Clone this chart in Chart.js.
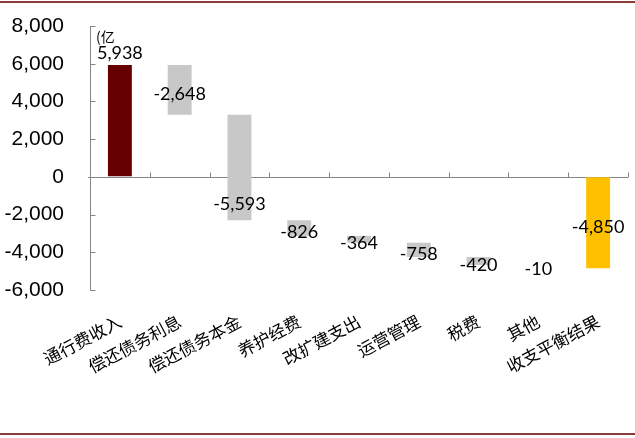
<!DOCTYPE html>
<html>
<head>
<meta charset="utf-8">
<script src="https://cdn.jsdelivr.net/npm/chart.js@4.4.1/dist/chart.umd.min.js"></script>
<style>
html,body{margin:0;padding:0;background:#fff}
#wrap{width:635px;height:438px;position:relative}
</style>
</head>
<body>
<div id="wrap"><canvas id="c" width="635" height="438"></canvas></div>
<script>
// 收支测算（亿元）
const categories=['通行费收入','偿还债务利息','偿还债务本金','养护经费','改扩建支出','运营管理','税费','其他','收支平衡结果'];
const changes=[5938,-2648,-5593,-826,-364,-758,-420,-10];
const balance=-4850;
const yTicks=[-6000,-4000,-2000,0,2000,4000,6000,8000];
const unitLabel='(亿';

// waterfall: each step floats from the running total
let run=0;
const floats=changes.map(v=>{const b=[run,run+v];run+=v;return b;});
floats.push([0,balance]);
const values=[...changes,balance];
const colors=values.map((v,i)=>i===0?'#660000':(i===values.length-1?'#FFC000':'#C8C8C8'));

const AXIS='#868686';
const fmt=v=>v.toLocaleString('en-US');

const deco={
  id:'deco',
  beforeDraw(chart){
    const ctx=chart.ctx;
    ctx.save();
    ctx.fillStyle='#8c3b3b';
    ctx.fillRect(0,1,chart.width,2);
    ctx.fillRect(0,433,chart.width,2);
    ctx.restore();
  },
  beforeDatasetsDraw(chart){
    const {ctx,chartArea:a,scales:{x,y}}=chart;
    ctx.save();
    ctx.strokeStyle=AXIS;ctx.lineWidth=1;
    // y axis line + ticks pointing inward
    const lx=Math.round(a.left)+.5;
    ctx.beginPath();ctx.moveTo(lx,Math.round(a.top));ctx.lineTo(lx,Math.round(a.bottom)+1);ctx.stroke();
    yTicks.forEach(t=>{
      const py=Math.round(y.getPixelForValue(t))+.5;
      ctx.beginPath();ctx.moveTo(lx,py);ctx.lineTo(lx+5,py);ctx.stroke();
    });
    // zero line with upward ticks at category boundaries
    const y0=Math.round(y.getPixelForValue(0))+.5;
    ctx.beginPath();ctx.moveTo(a.left-2,y0);ctx.lineTo(a.right,y0);ctx.stroke();
    const w=(a.right-a.left)/categories.length;
    for(let k=1;k<=categories.length;k++){
      const px=Math.round(a.left+k*w)+.5;
      ctx.beginPath();ctx.moveTo(px,y0);ctx.lineTo(px,y0-5);ctx.stroke();
    }
    ctx.restore();
  },
  afterDatasetsDraw(chart){
    const {ctx,chartArea:a}=chart;
    const meta=chart.getDatasetMeta(0);
    const nudge={2:33};
    ctx.save();
    ctx.fillStyle='#000';
    ctx.font="18px Lato, 'Liberation Sans', sans-serif";
    ctx.textAlign='center';ctx.textBaseline='middle';
    meta.data.forEach((bar,i)=>{
      const top=Math.min(bar.y,bar.base),bot=Math.max(bar.y,bar.base);
      let ly=i===0?top-12:(top+bot)/2+4+(nudge[i]||0);
      ctx.fillText(fmt(values[i]),bar.x,ly);
    });
    ctx.font="14px 'Noto Sans CJK SC', sans-serif";
    ctx.textAlign='left';ctx.textBaseline='top';
    ctx.fillText(unitLabel,a.left+6,a.top+4);
    ctx.restore();
  }
};

new Chart(document.getElementById('c'),{
  type:'bar',
  data:{labels:categories,datasets:[{data:floats,backgroundColor:colors,borderWidth:0,categoryPercentage:1,barPercentage:0.4}]},
  options:{
    responsive:false,animation:false,devicePixelRatio:1,
    layout:{padding:{top:26,right:7,left:0,bottom:0}},
    plugins:{legend:{display:false},tooltip:{enabled:false}},
    scales:{
      x:{
        grid:{display:false},border:{display:false},
        ticks:{color:'#000',font:{family:"'Noto Sans CJK SC', sans-serif",size:17},minRotation:28,maxRotation:28,autoSkip:false,padding:13},
        afterFit:s=>{s.height=148;}
      },
      y:{
        min:-6000,max:8000,
        grid:{display:true,drawOnChartArea:false,drawTicks:true,tickLength:26,tickColor:'rgba(0,0,0,0)'},
        border:{display:false},
        ticks:{stepSize:2000,color:'#000',padding:0,font:{family:"'Liberation Sans', Arial, sans-serif",size:21},callback:v=>fmt(v)},
        afterFit:s=>{s.width=90;}
      }
    }
  },
  plugins:[deco]
});
</script>
</body>
</html>
